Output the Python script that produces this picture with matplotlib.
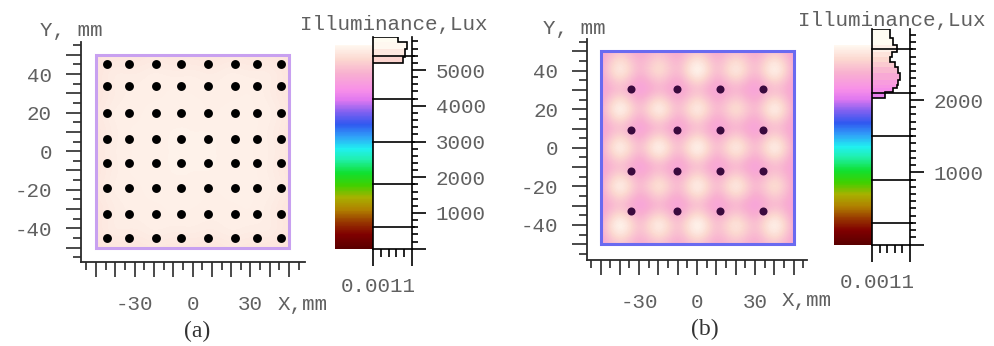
import numpy as np
import matplotlib
matplotlib.use('Agg')
import matplotlib.pyplot as plt
from matplotlib.colors import LinearSegmentedColormap, Normalize
from matplotlib.patches import Rectangle
from matplotlib.cm import ScalarMappable

W, H = 995, 346
plt.rcParams['font.family'] = ['Liberation Mono', 'DejaVu Sans Mono']

# ---- data ----
# LED / sample point positions, mm
led_x_a = [-44.5, -33, -19, -6, 8, 22, 33.5, 46]
led_y_a = [45, 34, 20, 6.5, -6, -19, -32.5, -45]
led_x_b = [-34, -10.5, 12, 34]
led_y_b = [30.5, 9, -12, -32.5]

# illuminance samples (lux) on a 10 mm grid, rows from y=50 down to y=-50, cols x=-50..50
grid_pos = [-50, -40, -30, -20, -10, 0, 10, 20, 30, 40, 50]
illum_a = [
    [5420, 5480, 5450, 5500, 5460, 5480, 5450, 5500, 5460, 5480, 5420],
    [5480, 5600, 5540, 5620, 5560, 5600, 5540, 5620, 5560, 5600, 5480],
    [5450, 5540, 5600, 5560, 5620, 5580, 5600, 5560, 5620, 5540, 5450],
    [5500, 5620, 5560, 5640, 5580, 5640, 5560, 5640, 5580, 5620, 5500],
    [5460, 5560, 5620, 5580, 5640, 5600, 5640, 5580, 5620, 5560, 5460],
    [5480, 5600, 5580, 5640, 5600, 5650, 5600, 5640, 5580, 5600, 5480],
    [5460, 5560, 5620, 5580, 5640, 5600, 5640, 5580, 5620, 5560, 5460],
    [5500, 5620, 5560, 5640, 5580, 5640, 5560, 5640, 5580, 5620, 5500],
    [5450, 5540, 5600, 5560, 5620, 5580, 5600, 5560, 5620, 5540, 5450],
    [5480, 5600, 5540, 5620, 5560, 5600, 5540, 5620, 5560, 5600, 5480],
    [5420, 5480, 5450, 5500, 5460, 5480, 5450, 5500, 5460, 5480, 5420],
]
illum_b = [
    [2250, 2450, 2250, 2420, 2250, 2450, 2250, 2420, 2250, 2450, 2250],
    [2250, 3050, 2280, 2900, 2280, 3200, 2280, 3050, 2280, 3150, 2250],
    [2220, 2300, 2120, 2280, 2150, 2320, 2150, 2280, 2130, 2300, 2220],
    [2250, 3200, 2300, 3150, 2300, 3100, 2300, 2950, 2300, 3150, 2250],
    [2220, 2300, 2120, 2280, 2130, 2320, 2130, 2280, 2130, 2300, 2220],
    [2250, 3150, 2300, 3200, 2300, 3200, 2300, 3100, 2300, 3150, 2250],
    [2220, 2300, 2130, 2280, 2130, 2320, 2130, 2280, 2130, 2300, 2220],
    [2250, 3150, 2300, 3000, 2300, 3150, 2300, 3100, 2300, 2950, 2250],
    [2220, 2300, 2120, 2280, 2130, 2320, 2130, 2280, 2130, 2300, 2220],
    [2250, 3200, 2300, 3100, 2300, 3200, 2300, 3000, 2300, 3150, 2250],
    [2250, 2450, 2250, 2420, 2250, 2450, 2250, 2420, 2250, 2450, 2250],
]

# histograms of illuminance (bin edges in lux, bar length relative to box width)
hist_a_edges = [5187, 5372, 5600, 5792, 5932]
hist_a_counts = [0.78, 0.82, 0.87, 0.65]
hist_b_edges = [2024, 2115, 2162, 2207, 2277, 2369, 2461, 2530, 2599, 2668, 2761, 2853, 2982]
hist_b_counts = [0.34, 0.56, 0.65, 0.69, 0.73, 0.69, 0.60, 0.47, 0.51, 0.65, 0.56, 0.47]
hist_lines_a = [600, 1800, 3000, 4200, 5400]
hist_lines_b = [300, 900, 1500, 2100, 2700]

cbar_max_a, cbar_max_b = 5706, 2761
hist_top_a, hist_top_b = 5935, 2982
cbar_ticks_a = [0, 1000, 2000, 3000, 4000, 5000]
cbar_labels_a = ['', '1000', '2000', '3000', '4000', '5000']
cbar_ticks_b = [0, 1000, 2000]
cbar_labels_b = ['', '1000', '2000']

xy_ticks = [-50, -40, -30, -20, -10, 0, 10, 20, 30, 40, 50]
x_labels = ['', '', '-30', '', '', '0', '', '', '30', '', '']
y_labels = ['', '-40', '', '-20', '', '0', '', '20', '', '40', '']

cmap = LinearSegmentedColormap.from_list('illum', [
    (0.00, '#5a0000'), (0.07, '#800000'), (0.13, '#983800'), (0.19, '#b08000'),
    (0.25, '#a8b000'), (0.31, '#40d000'), (0.37, '#10e030'), (0.44, '#20f0b0'),
    (0.49, '#20f0f0'), (0.55, '#30a0f8'), (0.61, '#3058f0'), (0.67, '#8060f0'),
    (0.73, '#e078f0'), (0.78, '#f890e8'), (0.86, '#f8b0d0'), (0.93, '#fcd8d0'),
    (1.00, '#fff8f0')])
cmap.set_over('#fffcf2')

TXT = '#606060'
LN = '#2a2a2a'

fig = plt.figure(figsize=(W / 100, H / 100), dpi=100)


def px_axes(l, t, r, b):
    return fig.add_axes([l / W, 1 - b / H, (r - l) / W, (b - t) / H])


def draw_panel(lay, illum, led_x, led_y, dot_color, dot_size, border,
               edges, counts, hlines, vmax, htop, cticks, clabels, cminor, letter):
    cx, cy, s = lay['center']
    (x0, x1), (y0, y1) = lay['xlim'], lay['ylim']
    ax = px_axes(cx + x0 * s, cy - y1 * s, cx + x1 * s, cy - y0 * s)
    norm = Normalize(0, vmax)
    step = grid_pos[1] - grid_pos[0]
    im = ax.imshow(illum, cmap=cmap, norm=norm, interpolation='bicubic', aspect='auto',
                   extent=(grid_pos[0] - step / 2, grid_pos[-1] + step / 2,
                           grid_pos[0] - step / 2, grid_pos[-1] + step / 2))
    sq = Rectangle((-50, -50), 100, 100, transform=ax.transData, fill=False,
                   edgecolor=border, lw=2.2)
    im.set_clip_path(sq)
    ax.add_patch(sq)
    gx, gy = np.meshgrid(led_x, led_y)
    ax.plot(gx.ravel(), gy.ravel(), 'o', color=dot_color, ms=dot_size, mew=0)
    ax.set_xlim(x0, x1)
    ax.set_ylim(y0, y1)
    for k in ['top', 'right']:
        ax.spines[k].set_visible(False)
    for k in ['left', 'bottom']:
        ax.spines[k].set_color(LN)
        ax.spines[k].set_linewidth(1.3)
    ax.set_xticks(xy_ticks)
    ax.set_xticklabels(x_labels)
    ax.set_yticks(xy_ticks)
    ax.set_yticklabels(y_labels)
    ax.set_xticks(np.arange(-55, 56, 10), minor=True)
    ax.set_yticks(np.arange(-55, 56, 10), minor=True)
    ax.tick_params(which='major', direction='out', length=11, width=1.2, color=LN,
                   labelcolor=TXT, labelsize=15)
    ax.tick_params(which='minor', direction='out', length=6, width=1.2, color=LN)
    ax.tick_params(axis='y', pad=10)
    ax.tick_params(axis='x', pad=13)
    ax.patch.set_visible(False)

    # colorbar + histogram
    zp, ppk = lay['vscale']
    cl, cr = lay['cbar_x']
    hr = lay['hist_r']
    cax = px_axes(cl, zp - vmax * ppk / 1000, cr, zp)
    cb = fig.colorbar(ScalarMappable(norm=norm, cmap=cmap), cax=cax)
    cb.outline.set_visible(False)
    cax.set_yticks([])
    hax = px_axes(cr, zp - htop * ppk / 1000, hr, zp)
    widths = np.diff(edges)
    centers = np.array(edges[:-1]) + widths / 2
    hax.barh(edges[:-1], counts, height=widths, align='edge',
             color=cmap(norm(centers)), linewidth=0)
    hax.stairs(counts, edges, orientation='horizontal', baseline=0, color='black', lw=1.2)
    for v in hlines:
        hax.axhline(v, color='black', lw=1.2, xmin=0, xmax=1.05, clip_on=False)
    hax.set_xlim(0, 1)
    hax.set_ylim(0, htop)
    hax.spines['top'].set_visible(False)
    for k in ['left', 'right', 'bottom']:
        hax.spines[k].set_color('black')
        hax.spines[k].set_linewidth(1.2)
    hax.yaxis.tick_right()
    hax.set_yticks(cticks)
    hax.set_yticklabels(clabels)
    hax.set_yticks(np.arange(0, htop, cminor), minor=True)
    hax.tick_params(axis='y', which='major', direction='out', length=10, width=1.2,
                    labelcolor=TXT, labelsize=15, pad=7)
    hax.tick_params(axis='y', which='minor', direction='out', length=4, width=1.2)
    hax.set_xticks([0, 1])
    hax.set_xticklabels([])
    hax.set_xticks([0.2, 0.4, 0.6, 0.8], minor=True)
    hax.tick_params(axis='x', which='major', direction='out', length=12, width=1.2)
    hax.tick_params(axis='x', which='minor', direction='out', length=6, width=1.2)

    for txt, (x, y) in lay['texts'].items():
        fig.text(x / W, 1 - y / H, txt, color=TXT, fontsize=15, ha='left', va='center')
    fig.text(lay['num'][0] / W, 1 - lay['num'][1] / H, '0.0011', color=TXT,
             fontsize=15, ha='center', va='center')
    fig.text(lay['letter'][0] / W, 1 - lay['letter'][1] / H, letter, color='#333333',
             fontsize=17, ha='center', va='center', family=['Liberation Serif', 'DejaVu Serif'])


layout_a = dict(center=(192.6, 151.2, 1.93), xlim=(-57.8, 58.2), ylim=(-57.4, 56.6),
                vscale=(248.75, 35.75), cbar_x=(335, 373), hist_r=412,
                texts={'Y, mm': (40, 30), 'Illuminance,Lux': (300, 25), 'X,mm': (278, 304)},
                num=(378, 287), letter=(197, 331))
layout_b = dict(center=(697, 147.8, 1.93), xlim=(-56.8, 56.8), ylim=(-58, 56.2),
                vscale=(244.6, 72.3), cbar_x=(833.5, 872.3), hist_r=910,
                texts={'Y, mm': (543, 28), 'Illuminance,Lux': (798, 21), 'X,mm': (782, 301)},
                num=(877, 283), letter=(705, 329))

draw_panel(layout_a, illum_a, led_x_a, led_y_a, 'black', 6.4, '#c8a0f0',
           hist_a_edges, hist_a_counts, hist_lines_a, cbar_max_a, hist_top_a,
           cbar_ticks_a, cbar_labels_a, 200, '(a)')
draw_panel(layout_b, illum_b, led_x_b, led_y_b, '#3a0a3e', 5.8, '#6a6af0',
           hist_b_edges, hist_b_counts, hist_lines_b, cbar_max_b, hist_top_b,
           cbar_ticks_b, cbar_labels_b, 100, '(b)')

fig.savefig('out.png', dpi=100)
